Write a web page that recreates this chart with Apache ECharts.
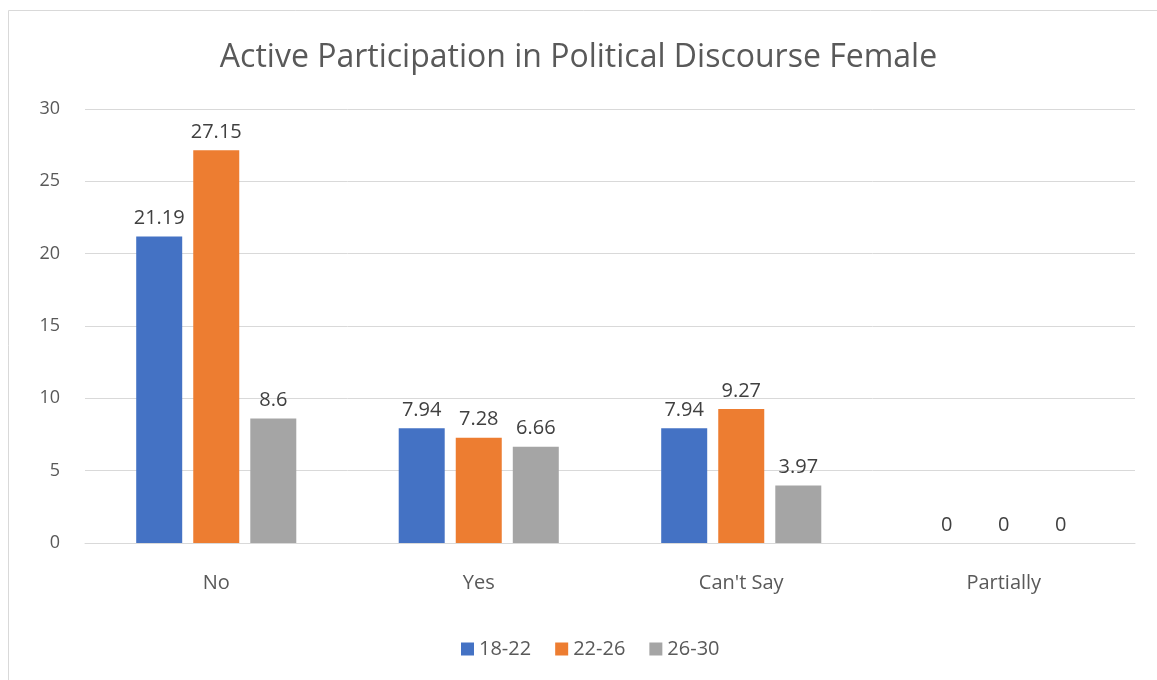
<!DOCTYPE html>
<html><head><meta charset="utf-8">
<script src="https://cdn.jsdelivr.net/npm/echarts@6/dist/echarts.min.js"></script>
<style>html,body{margin:0;padding:0;background:#fff}#c{width:1157px;height:680px}</style>
</head><body><div id="c"></div>
<script>
const categories = ["No", "Yes", "Can't Say", "Partially"];
const s1822 = [21.19, 7.94, 7.94, 0];
const s2226 = [27.15, 7.28, 9.27, 0];
const s2630 = [8.6, 6.66, 3.97, 0];
const seriesNames = ["18-22", "22-26", "26-30"];
const colors = ["#4472C4", "#ED7D31", "#A5A5A5"];
const font = "'Open Sans', 'Liberation Sans', sans-serif";
const chart = echarts.init(document.getElementById('c'));
const lbl = {show: true, position: 'top', distance: 8, color: '#404040', fontSize: 20, fontFamily: font};
chart.setOption({
  animation: false,
  color: colors,
  graphic: [{type: 'rect', shape: {x: 8.5, y: 10.5, width: 1160, height: 680}, style: {fill: 'none', stroke: '#D9D9D9', lineWidth: 1}}],
  title: {text: 'Active Participation in Political Discourse Female', left: 'center', top: 37,
    textStyle: {fontSize: 32, fontWeight: 'normal', color: '#595959', fontFamily: font}},
  legend: {bottom: 16, left: 456, itemWidth: 13, itemHeight: 13, itemGap: 24, icon: 'rect',
    textStyle: {fontSize: 20, color: '#595959', fontFamily: font}},
  grid: {left: 85, right: 22, top: 109, bottom: 137},
  xAxis: {type: 'category', data: categories,
    axisLine: {lineStyle: {color: '#D9D9D9'}}, axisTick: {show: false},
    axisLabel: {fontSize: 20, color: '#595959', fontFamily: font, margin: 30}},
  yAxis: {type: 'value', min: 0, max: 30, interval: 5,
    axisLine: {show: false}, axisTick: {show: false},
    splitLine: {lineStyle: {color: '#D9D9D9'}},
    axisLabel: {fontSize: 18, color: '#595959', fontFamily: font, margin: 25}},
  series: [
    {name: seriesNames[0], type: 'bar', data: s1822, barWidth: 46, barGap: '24%', label: lbl},
    {name: seriesNames[1], type: 'bar', data: s2226, barWidth: 46, barGap: '24%', label: lbl},
    {name: seriesNames[2], type: 'bar', data: s2630, barWidth: 46, barGap: '24%', label: lbl}
  ]
});
</script></body></html>
